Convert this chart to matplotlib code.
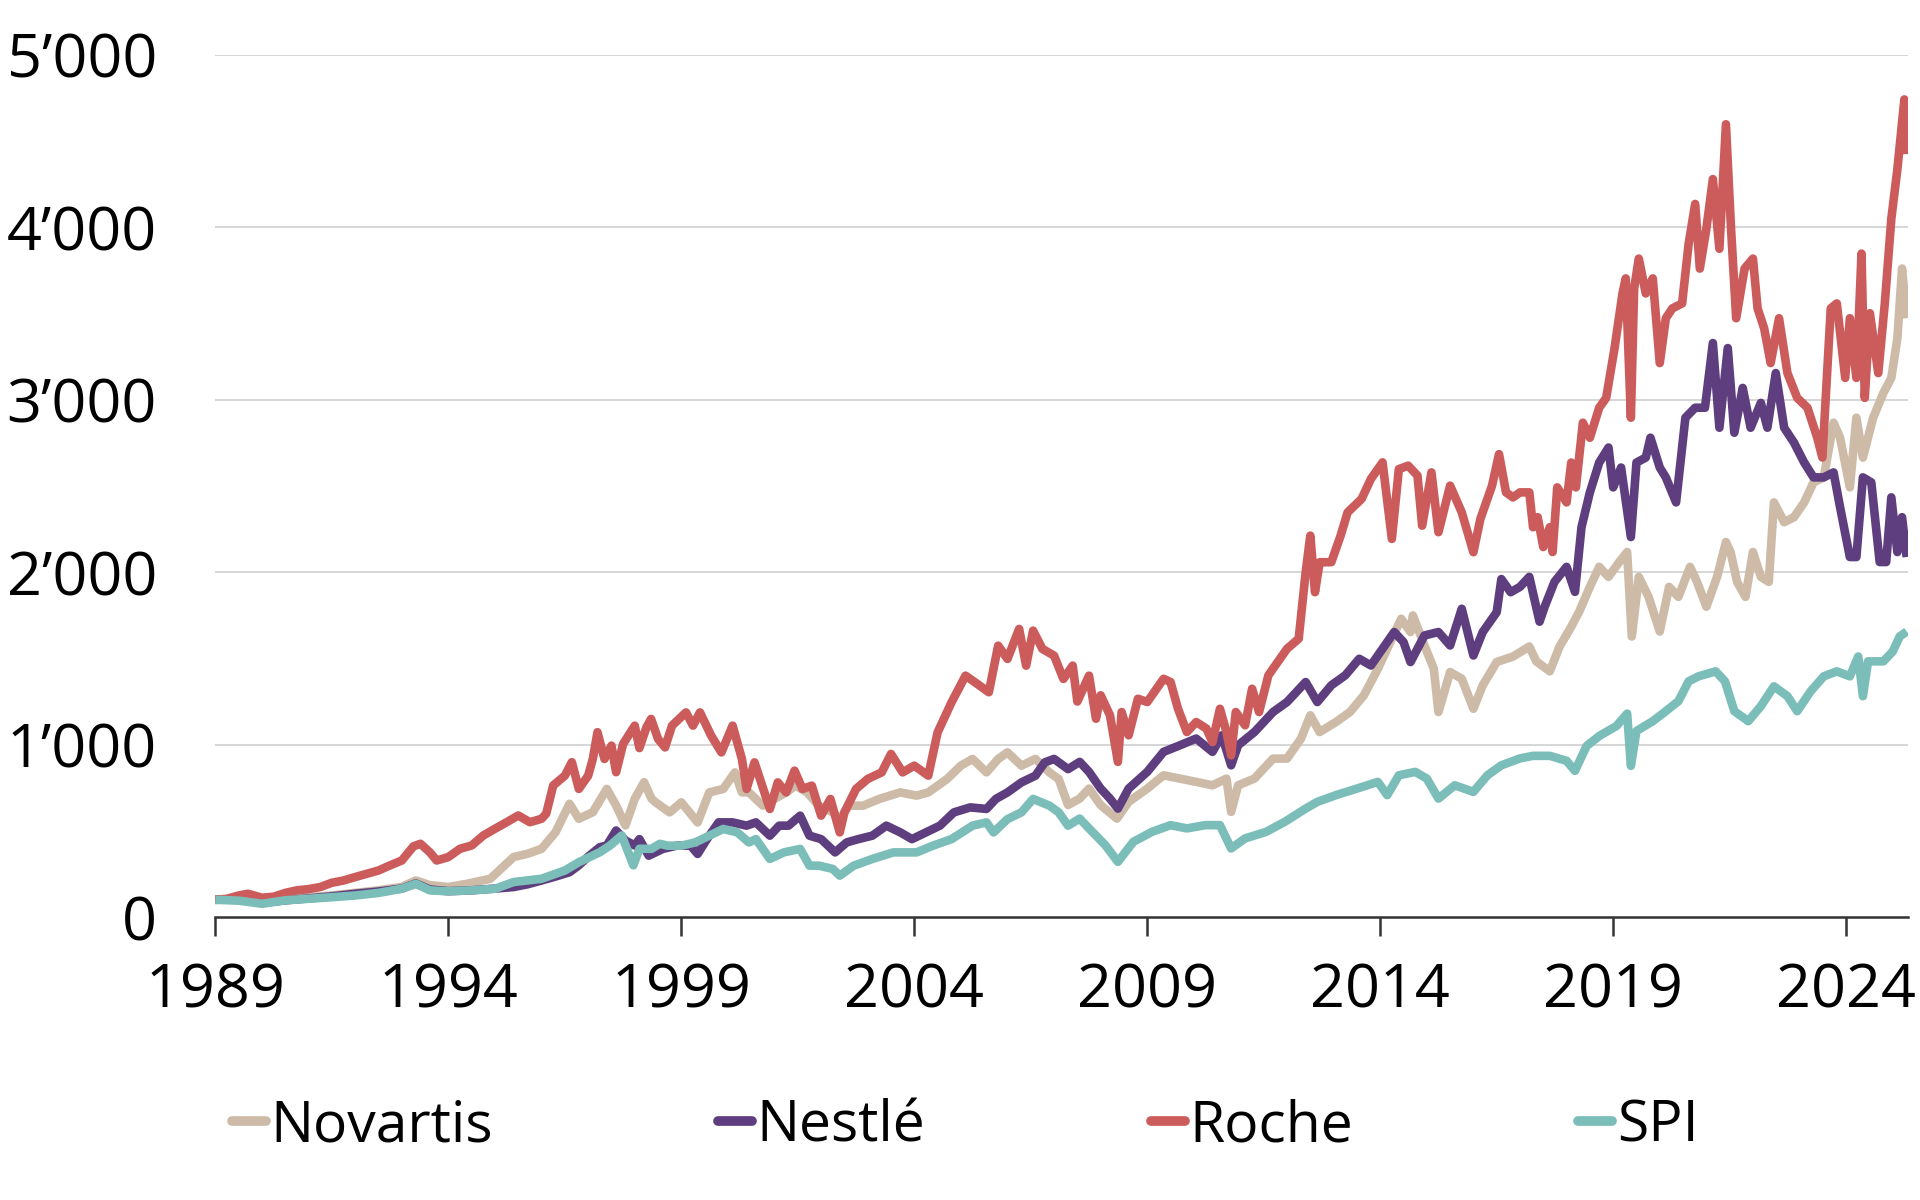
import numpy as np
import matplotlib.pyplot as plt
from matplotlib.lines import Line2D
from matplotlib.ticker import FuncFormatter

plt.rcParams['font.family'] = ['Open Sans', 'DejaVu Sans']

# values, rebased to 100 in 1989
roche_t = [1989.0, 1989.25, 1989.5, 1989.7, 1990.0, 1990.25, 1990.5, 1990.75, 1991.0, 1991.25,
           1991.5, 1991.75, 1992.0, 1992.25, 1992.5, 1992.75, 1993.0, 1993.25, 1993.4, 1993.6,
           1993.75, 1994.0, 1994.25, 1994.5, 1994.75, 1995.0, 1995.25, 1995.5, 1995.75, 1996.0,
           1996.1, 1996.25, 1996.5, 1996.65, 1996.8, 1997.0, 1997.1, 1997.2, 1997.35, 1997.5,
           1997.6, 1997.75, 1998.0, 1998.1, 1998.25, 1998.35, 1998.5, 1998.65, 1998.8, 1999.1,
           1999.25, 1999.4, 1999.64, 1999.86, 2000.1, 2000.3, 2000.4, 2000.57, 2000.9, 2001.07,
           2001.25, 2001.43, 2001.6, 2001.8, 2002.0, 2002.2, 2002.4, 2002.5, 2002.75, 2003.0,
           2003.3, 2003.5, 2003.75, 2004.0, 2004.3, 2004.5, 2004.8, 2005.1, 2005.3, 2005.6,
           2005.8, 2006.0, 2006.25, 2006.4, 2006.55, 2006.75, 2007.0, 2007.2, 2007.4, 2007.5,
           2007.75, 2007.9, 2008.0, 2008.2, 2008.37, 2008.45, 2008.6, 2008.8, 2009.0, 2009.35,
           2009.5, 2009.66, 2009.85, 2010.05, 2010.27, 2010.4, 2010.56, 2010.7, 2010.8, 2010.9,
           2011.1, 2011.25, 2011.4, 2011.6, 2011.8, 2012.0, 2012.25, 2012.4, 2012.5, 2012.6,
           2012.7, 2012.95, 2013.15, 2013.3, 2013.6, 2013.8, 2014.05, 2014.25, 2014.4, 2014.6,
           2014.8, 2014.9, 2015.1, 2015.25, 2015.5, 2015.75, 2016.0, 2016.15, 2016.4, 2016.55,
           2016.7, 2016.85, 2017.0, 2017.2, 2017.28, 2017.38, 2017.5, 2017.64, 2017.7, 2017.8,
           2018.0, 2018.1, 2018.2, 2018.35, 2018.5, 2018.7, 2018.85, 2019.03, 2019.2, 2019.27,
           2019.38, 2019.45, 2019.55, 2019.7, 2019.85, 2020.0, 2020.13, 2020.27, 2020.48, 2020.62,
           2020.76, 2020.86, 2021.0, 2021.14, 2021.28, 2021.42, 2021.53, 2021.64, 2021.82, 2022.0,
           2022.1, 2022.24, 2022.38, 2022.56, 2022.74, 2022.95, 2023.17, 2023.38, 2023.49, 2023.67,
           2023.8, 2023.98, 2024.08, 2024.22, 2024.33, 2024.4, 2024.51, 2024.69, 2024.83, 2024.97,
           2025.1, 2025.25, 2025.3]
roche = [100, 106, 125, 135, 112, 118, 140, 155, 162, 174,
         199, 212, 232, 251, 270, 300, 328, 410, 425, 376,
         328, 348, 396, 415, 473, 512, 550, 589, 550, 570,
         600, 763, 820, 898, 743, 820, 917, 1072, 917, 994,
         840, 1004, 1110, 980, 1100, 1149, 1033, 984, 1110, 1187,
         1110, 1187, 1052, 955, 1110, 917, 743, 897, 627, 781,
         723, 849, 743, 762, 588, 685, 491, 607, 743, 801,
         839, 946, 839, 878, 820, 1071, 1246, 1400, 1362, 1304,
         1574, 1497, 1671, 1458, 1661, 1555, 1516, 1381, 1458, 1250,
         1400, 1150, 1286, 1170, 900, 1189, 1054, 1266, 1247, 1382,
         1363, 1208, 1073, 1131, 1093, 1015, 1208, 1073, 938, 1189,
         1112, 1324, 1189, 1402, 1479, 1556, 1614, 2000, 2212, 1884,
         2058, 2058, 2212, 2347, 2425, 2541, 2637, 2193, 2598, 2618,
         2560, 2270, 2579, 2232, 2502, 2347, 2116, 2309, 2502, 2685,
         2463, 2434, 2463, 2463, 2261, 2319, 2146, 2261, 2117, 2492,
         2405, 2636, 2492, 2867, 2780, 2954, 3011, 3300, 3617, 3704,
         2896, 3646, 3819, 3617, 3704, 3213, 3473, 3530, 3559, 3905,
         4136, 3761, 3992, 4280, 3876, 4598, 3992, 3473, 3761, 3819,
         3530, 3415, 3213, 3473, 3155, 3011, 2954, 2780, 2665, 3530,
         3559, 3127, 3473, 3127, 3848, 3011, 3502, 3155, 3559, 4050,
         4338, 4742, 4425]

nestle_t = [1989.0, 1989.5, 1990.0, 1990.5, 1991.0, 1991.5, 1992.0, 1992.5, 1993.0, 1993.3,
            1993.6, 1994.0, 1994.5, 1995.0, 1995.4, 1995.7, 1996.0, 1996.3, 1996.6, 1996.8,
            1997.0, 1997.25, 1997.4, 1997.6, 1997.8, 1998.0, 1998.1, 1998.3, 1998.6, 1998.9,
            1999.2, 1999.35, 1999.55, 1999.8, 2000.1, 2000.4, 2000.6, 2000.9, 2001.1, 2001.3,
            2001.55, 2001.75, 2002.0, 2002.3, 2002.55, 2002.8, 2003.1, 2003.4, 2003.7, 2003.95,
            2004.25, 2004.55, 2004.85, 2005.2, 2005.55, 2005.75, 2006.0, 2006.3, 2006.6, 2006.8,
            2007.0, 2007.3, 2007.55, 2007.75, 2008.0, 2008.2, 2008.37, 2008.6, 2009.0, 2009.35,
            2009.7, 2010.05, 2010.4, 2010.6, 2010.8, 2010.95, 2011.3, 2011.7, 2012.0, 2012.4,
            2012.65, 2012.95, 2013.25, 2013.55, 2013.8, 2014.1, 2014.3, 2014.5, 2014.65, 2014.95,
            2015.25, 2015.5, 2015.75, 2016.0, 2016.2, 2016.5, 2016.6, 2016.8, 2017.0, 2017.2,
            2017.42, 2017.53, 2017.74, 2018.0, 2018.18, 2018.32, 2018.5, 2018.7, 2018.9, 2019.0,
            2019.17, 2019.38, 2019.5, 2019.7, 2019.8, 2020.0, 2020.13, 2020.35, 2020.55, 2020.76,
            2020.97, 2021.14, 2021.28, 2021.46, 2021.6, 2021.78, 2021.95, 2022.17, 2022.31, 2022.49,
            2022.67, 2022.88, 2023.1, 2023.3, 2023.52, 2023.73, 2023.87, 2024.08, 2024.22, 2024.36,
            2024.54, 2024.72, 2024.86, 2024.97, 2025.1, 2025.2, 2025.3]
nestle = [100, 105, 82, 97, 108, 120, 135, 148, 165, 195,
          160, 150, 155, 165, 174, 190, 212, 235, 260, 300,
          350, 405, 415, 502, 444, 415, 452, 356, 395, 414,
          414, 366, 452, 549, 549, 530, 549, 472, 530, 530,
          588, 472, 452, 375, 433, 452, 472, 530, 491, 452,
          491, 530, 607, 636, 627, 685, 723, 781, 820, 897,
          917, 858, 900, 842, 745, 687, 629, 745, 842, 958,
          996, 1035, 958, 1054, 880, 996, 1073, 1189, 1247, 1363,
          1247, 1344, 1402, 1498, 1459, 1575, 1653, 1595, 1479, 1633,
          1653, 1575, 1788, 1517, 1653, 1768, 1960, 1884, 1915, 1973,
          1713, 1800, 1944, 2031, 1886, 2261, 2463, 2636, 2723, 2492,
          2607, 2204, 2636, 2665, 2780, 2607, 2550, 2405, 2896, 2954,
          2954, 3329, 2838, 3300, 2809, 3069, 2838, 2982, 2838, 3155,
          2838, 2752, 2636, 2550, 2550, 2579, 2377, 2088, 2088, 2550,
          2521, 2059, 2059, 2434, 2117, 2319, 2088]

novartis_t = [1989.0, 1989.5, 1990.0, 1990.5, 1991.0, 1991.5, 1992.0, 1992.5, 1993.0, 1993.3,
              1993.6, 1994.0, 1994.4, 1994.9, 1995.4, 1995.7, 1996.0, 1996.3, 1996.6, 1996.8,
              1997.1, 1997.4, 1997.6, 1997.8, 1998.0, 1998.2, 1998.36, 1998.45, 1998.75, 1999.0,
              1999.35, 1999.6, 1999.9, 2000.15, 2000.3, 2000.45, 2000.75, 2001.0, 2001.25, 2001.45,
              2001.7, 2001.95, 2002.25, 2002.4, 2002.6, 2002.9, 2003.25, 2003.7, 2004.05, 2004.3,
              2004.7, 2005.0, 2005.25, 2005.55, 2005.8, 2006.0, 2006.3, 2006.6, 2006.9, 2007.1,
              2007.3, 2007.55, 2007.75, 2008.0, 2008.35, 2008.6, 2009.0, 2009.35, 2009.7, 2010.05,
              2010.4, 2010.7, 2010.8, 2010.95, 2011.3, 2011.7, 2012.0, 2012.3, 2012.5, 2012.7,
              2013.05, 2013.35, 2013.65, 2013.95, 2014.25, 2014.45, 2014.65, 2014.7, 2014.95, 2015.15,
              2015.25, 2015.5, 2015.75, 2016.0, 2016.2, 2016.5, 2016.85, 2017.2, 2017.35, 2017.64,
              2017.85, 2018.1, 2018.27, 2018.5, 2018.7, 2018.9, 2019.13, 2019.3, 2019.4, 2019.55,
              2019.76, 2020.0, 2020.2, 2020.4, 2020.65, 2020.8, 2021.0, 2021.23, 2021.42, 2021.52,
              2021.66, 2021.84, 2022.0, 2022.17, 2022.34, 2022.45, 2022.67, 2022.88, 2023.1, 2023.3,
              2023.52, 2023.73, 2023.87, 2024.08, 2024.22, 2024.36, 2024.58, 2024.8, 2024.97, 2025.1,
              2025.2, 2025.3]
novartis = [100, 103, 85, 100, 115, 125, 140, 155, 175, 212,
            185, 174, 193, 222, 348, 367, 396, 492, 657, 570,
            608, 743, 647, 531, 686, 782, 686, 665, 607, 665,
            549, 723, 743, 839, 723, 723, 646, 685, 723, 762,
            723, 646, 607, 569, 646, 646, 685, 723, 704, 723,
            800, 878, 917, 839, 917, 955, 878, 917, 839, 800,
            650, 687, 745, 649, 571, 668, 745, 822, 803, 784,
            764, 803, 610, 764, 803, 919, 919, 1035, 1170, 1073,
            1131, 1189, 1286, 1440, 1614, 1730, 1653, 1749, 1575, 1440,
            1189, 1421, 1382, 1208, 1344, 1479, 1511, 1569, 1483, 1425,
            1569, 1684, 1771, 1915, 2031, 1973, 2059, 2117, 1627, 1973,
            1857, 1656, 1915, 1857, 2031, 1944, 1800, 1973, 2175, 2117,
            1944, 1857, 2117, 1973, 1944, 2405, 2290, 2319, 2405, 2521,
            2550, 2867, 2780, 2492, 2896, 2665, 2896, 3040, 3127, 3357,
            3761, 3473]

spi_t = [1989.0, 1989.5, 1990.0, 1990.5, 1991.0, 1991.5, 1992.0, 1992.5, 1993.0, 1993.3,
         1993.6, 1994.0, 1994.5, 1995.0, 1995.4, 1996.0, 1996.5, 1996.8, 1997.25, 1997.47,
         1997.72, 1997.97, 1998.1, 1998.36, 1998.54, 1998.7, 1999.0, 1999.3, 1999.6, 1999.9,
         2000.2, 2000.45, 2000.6, 2000.9, 2001.2, 2001.55, 2001.75, 2001.95, 2002.25, 2002.4,
         2002.7, 2003.1, 2003.55, 2004.05, 2004.4, 2004.8, 2005.25, 2005.55, 2005.7, 2006.0,
         2006.3, 2006.55, 2006.9, 2007.1, 2007.3, 2007.55, 2007.75, 2008.1, 2008.37, 2008.7,
         2009.1, 2009.5, 2009.85, 2010.25, 2010.56, 2010.8, 2011.1, 2011.55, 2011.95, 2012.4,
         2012.65, 2013.05, 2013.5, 2013.95, 2014.15, 2014.4, 2014.75, 2015.0, 2015.25, 2015.6,
         2016.0, 2016.3, 2016.6, 2017.0, 2017.28, 2017.64, 2018.0, 2018.18, 2018.43, 2018.7,
         2019.07, 2019.3, 2019.38, 2019.5, 2019.85, 2020.13, 2020.4, 2020.62, 2020.83, 2021.2,
         2021.4, 2021.6, 2021.9, 2022.17, 2022.45, 2022.74, 2022.95, 2023.24, 2023.52, 2023.8,
         2024.08, 2024.26, 2024.36, 2024.47, 2024.8, 2025.0, 2025.15, 2025.3]
spi = [100, 95, 77, 97, 106, 115, 125, 140, 164, 193,
       155, 149, 155, 164, 203, 222, 270, 318, 376, 415,
       473, 300, 396, 396, 425, 414, 414, 433, 472, 511,
       491, 433, 452, 337, 375, 395, 298, 298, 279, 240,
       298, 337, 375, 375, 414, 452, 530, 549, 491, 568,
       607, 685, 646, 607, 530, 571, 514, 417, 320, 436,
       494, 533, 514, 533, 533, 398, 456, 494, 552, 629,
       668, 707, 745, 784, 707, 822, 842, 803, 687, 764,
       726, 822, 880, 920, 935, 935, 906, 848, 992, 1050,
       1108, 1180, 877, 1079, 1136, 1194, 1252, 1367, 1396, 1425,
       1367, 1194, 1136, 1223, 1338, 1281, 1194, 1310, 1396, 1425,
       1396, 1511, 1281, 1483, 1483, 1540, 1627, 1656]

series = [
    ("Novartis", novartis_t, novartis, "#cdbba8"),
    ("Nestlé", nestle_t, nestle, "#5e3e7e"),
    ("Roche", roche_t, roche, "#cc5c5b"),
    ("SPI", spi_t, spi, "#7bbdb8"),
]

fig = plt.figure(figsize=(19.2, 12), dpi=100)
ax = fig.add_axes([0.1122, 0.2358, 0.8816, 0.7184])

for name, t, v, col in series:
    ax.plot(t, v, color=col, lw=6.2, solid_joinstyle='round', solid_capstyle='butt')

ax.set_xlim(1989, 2025.33)
ax.set_ylim(0, 5000)
ax.set_yticks([0, 1000, 2000, 3000, 4000, 5000])
ax.set_xticks(list(range(1989, 2025, 5)))
ax.yaxis.set_major_formatter(FuncFormatter(
    lambda v, p: "0" if v == 0 else f"{int(v):,}".replace(",", "\u2019")))

for y in [1000, 2000, 3000, 4000, 5000]:
    ax.axhline(y, color="#cfcfcf", lw=1.2, zorder=0)

for s in ["top", "right", "left"]:
    ax.spines[s].set_visible(False)
ax.spines["bottom"].set_color("#333333")
ax.spines["bottom"].set_linewidth(1.8)
ax.tick_params(axis="y", length=0, pad=42, labelsize=44)
ax.tick_params(axis="x", length=14, width=1.8, color="#333333", pad=18, labelsize=44)

handles = [Line2D([0], [0], color=c, lw=7, solid_capstyle='round') for _, _, _, c in series]
fig.legend(handles, [s[0] for s in series], loc="center left",
           bbox_to_anchor=(232 / 1920, 0.061), ncol=4, frameon=False, fontsize=41,
           handlelength=0.6, handletextpad=0.08, columnspacing=3.95,
           borderpad=0, borderaxespad=0)

fig.savefig("out.png", dpi=100)
